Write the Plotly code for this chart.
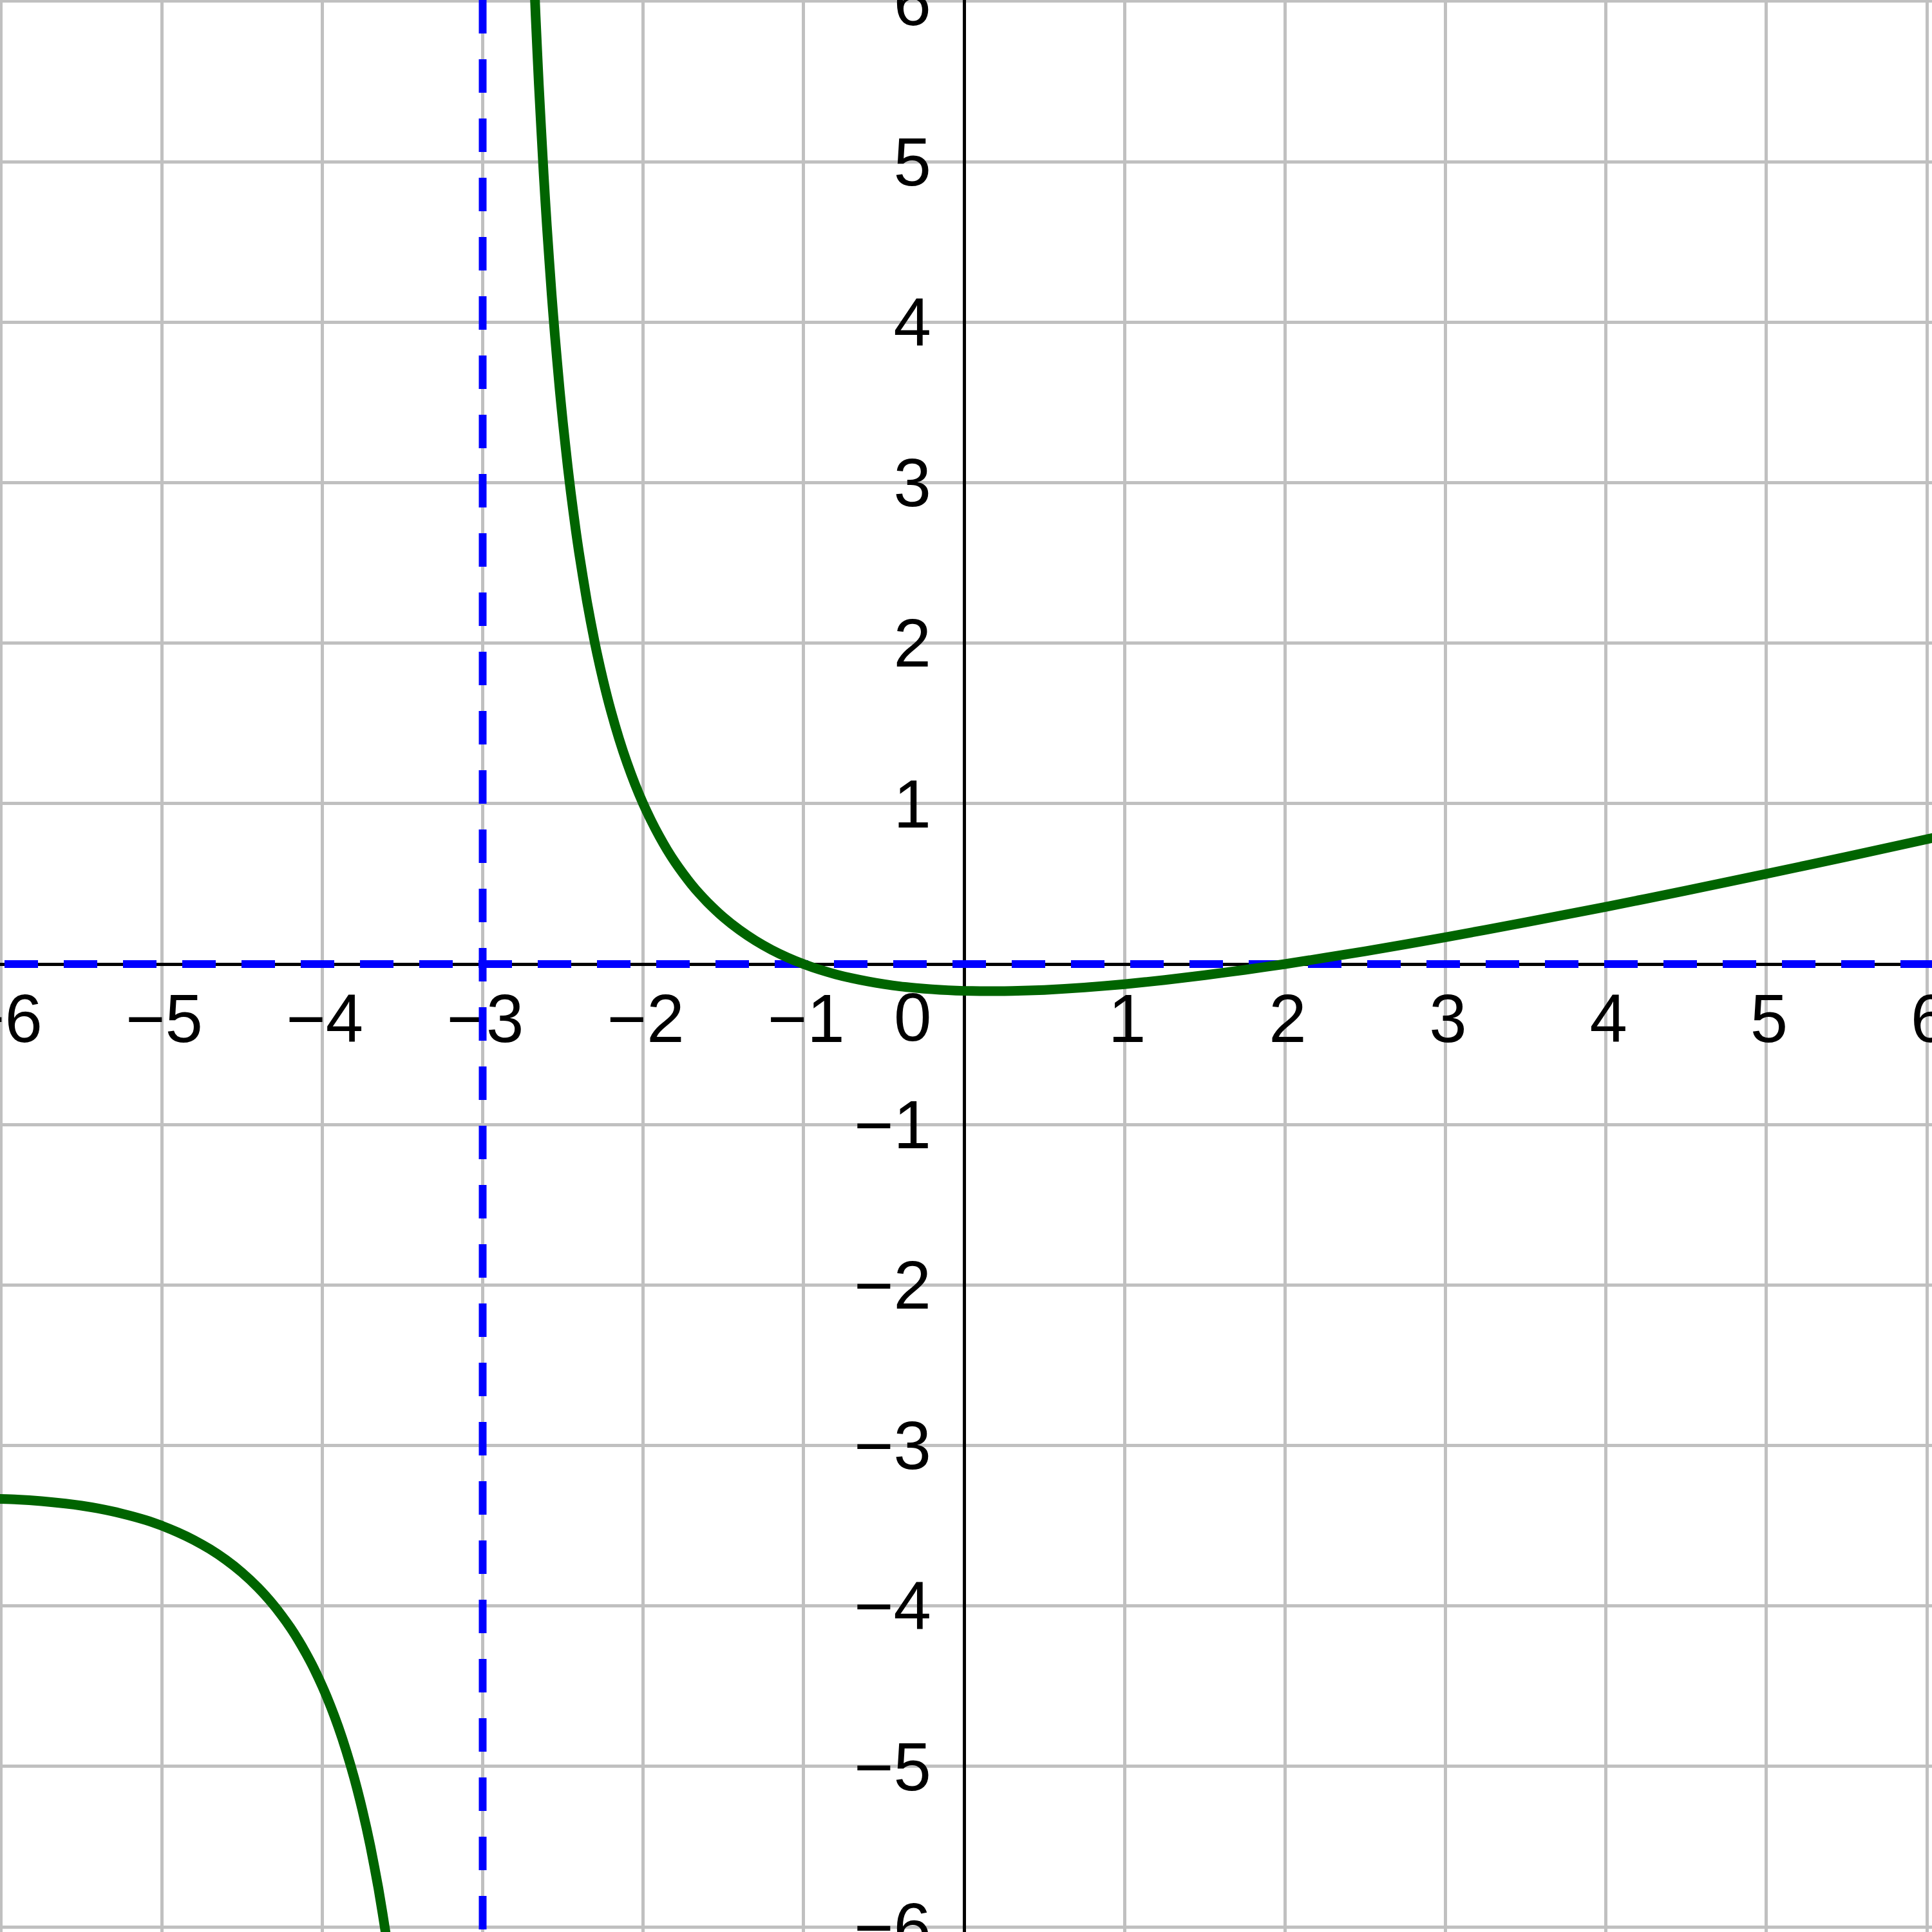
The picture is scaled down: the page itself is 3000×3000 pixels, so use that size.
import plotly.graph_objects as go

# Curve values
right_x = [-2.69, -2.67, -2.65, -2.62, -2.6, -2.57, -2.55, -2.52, -2.5, -2.47, -2.45, -2.42, -2.4,
           -2.35, -2.3, -2.25, -2.2, -2.15, -2.1, -2.05, -2.0, -1.95, -1.9, -1.85, -1.8, -1.75,
           -1.7, -1.65, -1.6, -1.5, -1.4, -1.3, -1.2, -1.1, -1.0, -0.9, -0.8, -0.7, -0.6, -0.5,
           -0.4, -0.3, -0.2, -0.1, 0.0, 0.1, 0.2, 0.3, 0.5, 0.75, 1.0, 1.25, 1.5, 1.75, 2.0,
           2.5, 3.0, 3.5, 4.0, 4.5, 5.0, 5.5, 6.05]
right_y = [6.392, 5.908, 5.480, 4.924, 4.600, 4.171, 3.918, 3.578, 3.375, 3.100, 2.933, 2.705, 2.567,
           2.259, 1.996, 1.771, 1.575, 1.404, 1.253, 1.119, 1.000, 0.894, 0.798, 0.711, 0.633, 0.563,
           0.498, 0.439, 0.386, 0.292, 0.213, 0.146, 0.089, 0.041, 0.0, -0.035, -0.064, -0.088, -0.108, -0.125,
           -0.139, -0.149, -0.157, -0.163, -0.167, -0.1685, -0.169, -0.1674, -0.161, -0.146, -0.125, -0.099, -0.069, -0.036, 0.0,
           0.080, 0.167, 0.260, 0.357, 0.458, 0.5625, 0.669, 0.789]
left_x = [-6.05, -5.9, -5.75, -5.6, -5.5, -5.4, -5.25, -5.1, -5.0, -4.9, -4.8, -4.7, -4.6, -4.5,
          -4.4, -4.3, -4.25, -4.2, -4.15, -4.1, -4.05, -4.0, -3.95, -3.9, -3.85,
          -3.8, -3.75, -3.7, -3.65, -3.6, -3.55]
left_y = [-3.332, -3.337, -3.347, -3.362, -3.375, -3.392, -3.424, -3.465, -3.500, -3.541, -3.589, -3.646, -3.713, -3.792,
          -3.886, -3.998, -4.063, -4.133, -4.211, -4.298, -4.393, -4.500, -4.619, -4.753, -4.904,
          -5.075, -5.271, -5.496, -5.759, -6.067, -6.432]

asym_x = -3      # vertical asymptote
asym_y = 0       # horizontal asymptote

x_ticks = [-6, -5, -4, -3, -2, -1, 1, 2, 3, 4, 5, 6]
y_ticks = [-6, -5, -4, -3, -2, -1, 1, 2, 3, 4, 5, 6]

def lab(v):
    return ("\u2212" + str(-v)) if v < 0 else str(v)

x_range = [-6.008, 6.032]
y_range = [-6.032, 6.008]

fig = go.Figure()
fig.add_trace(go.Scatter(x=[asym_x, asym_x], y=[y_range[1], y_range[0]], mode="lines",
                         line=dict(color="#0000ff", width=12, dash="52px,40px"), hoverinfo="skip"))
fig.add_trace(go.Scatter(x=[x_range[0] + 7/249.2, x_range[1]], y=[asym_y, asym_y], mode="lines",
                         line=dict(color="#0000ff", width=12, dash="52px,40px"), hoverinfo="skip"))
fig.add_trace(go.Scatter(x=right_x, y=right_y, mode="lines",
                         line=dict(color="#006400", width=15, shape="spline", smoothing=0.6),
                         hoverinfo="skip"))
fig.add_trace(go.Scatter(x=left_x, y=left_y, mode="lines",
                         line=dict(color="#006400", width=15, shape="spline", smoothing=0.6),
                         hoverinfo="skip"))

xpos = (0 - x_range[0]) / (x_range[1] - x_range[0])
ypos = (0 - y_range[0]) / (y_range[1] - y_range[0])

font = dict(family="Liberation Sans, Arial, sans-serif", size=105, color="black")

fig.update_layout(
    width=3000, height=3000,
    margin=dict(l=0, r=0, t=0, b=0, pad=0, autoexpand=False),
    paper_bgcolor="white", plot_bgcolor="white",
    showlegend=False,
    xaxis=dict(range=x_range, tickvals=x_ticks, ticktext=[lab(v) for v in x_ticks],
               showgrid=True, gridcolor="#c0c0c0", gridwidth=5, zeroline=False,
               showline=True, linecolor="black", linewidth=5, anchor="free", position=ypos,
               ticks="", tickfont=font, ticklabelstandoff=-8, ticklabeloverflow="allow",
               ticklabelshift=4, automargin=False, layer="below traces"),
    yaxis=dict(range=y_range, tickvals=y_ticks, ticktext=[lab(v) for v in y_ticks],
               showgrid=True, gridcolor="#c0c0c0", gridwidth=5, zeroline=False,
               showline=True, linecolor="black", linewidth=5, anchor="free", position=xpos,
               ticks="", tickfont=font, ticklabelstandoff=28, ticklabeloverflow="allow",
               automargin=False, layer="below traces"),
    annotations=[dict(x=-0.322, y=-0.332, xref="x", yref="y", text="0", showarrow=False,
                      font=font, xanchor="center", yanchor="middle")],
)

fig.write_html("out.html", config={"displayModeBar": False},
               post_script="document.body.style.margin='0';document.body.style.padding='0';")
